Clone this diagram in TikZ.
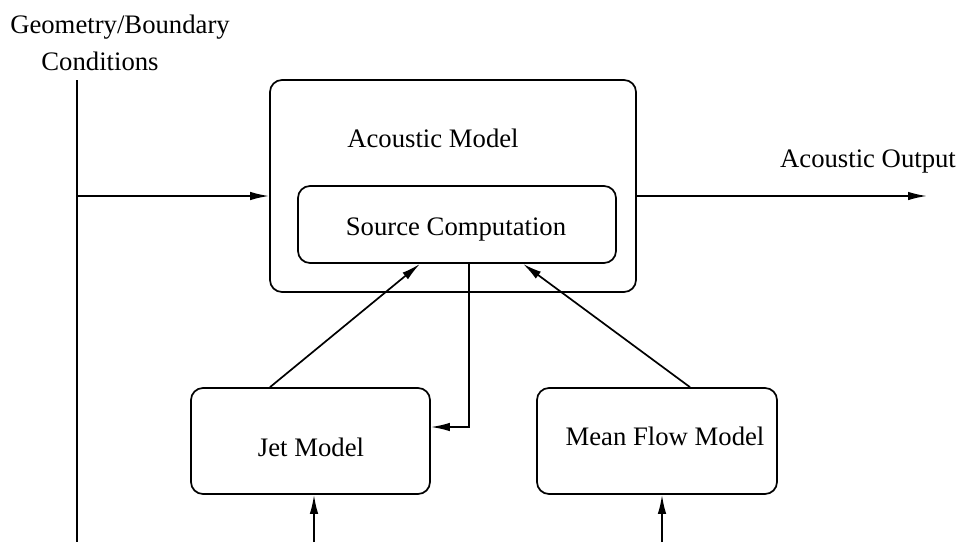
\documentclass[tikz,border=0pt]{standalone}
\usepackage{fontspec}
\setmainfont{Liberation Serif}
\usetikzlibrary{arrows.meta}
\begin{document}
\begin{tikzpicture}[x=1pt,y=-1pt,line width=1.7pt,
  box/.style={draw,rounded corners=12pt,inner sep=0pt},
  lbl/.style={font=\fontsize{26.7}{32}\selectfont,inner sep=0pt,anchor=base},
  arr/.style={-{Latex[length=19pt,width=8.5pt]}}]
\useasboundingbox (0,0) rectangle (961,542);

% model blocks
\node[box,minimum width=366pt,minimum height=212pt] (AM) at (453,186) {};
\node[box,minimum width=318pt,minimum height=77pt] (SC) at (457,224.5) {};
\node[box,minimum width=239pt,minimum height=106pt] (JM) at (310.5,441) {};
\node[box,minimum width=240pt,minimum height=106pt] (MF) at (657,441) {};

% block titles
\node[lbl] (tAM) at (433,147) {Acoustic Model};
\node[lbl] (tSC) at (456,235) {Source Computation};
\node[lbl] (tJM) at (311,456) {Jet Model};
\node[lbl] (tMF) at (665,445) {Mean Flow Model};

% free labels
\node[lbl] (tGeo) at (120,33) {Geometry/Boundary};
\node[lbl] (tCond) at (100,70) {Conditions};
\node[lbl] (tOut) at (868,167) {Acoustic Output};

% geometry / boundary condition feed
\coordinate (gtop) at (77,80);
\coordinate (gbot) at (77,542);
\draw (gtop) -- (gbot);
\draw[arr] (gtop |- 0,196) -- (AM.west |- 0,196);

% acoustic output
\coordinate (out) at (927,196);
\draw[arr] (AM.east |- out) -- (out);

% flow models feeding the source computation
\draw[arr] (JM.north -| 270,0) -- (SC.south -| 420,0);
\draw[arr] (MF.north -| 690,0) -- (SC.south -| 523,0);
\draw[arr] (SC.south -| 469,0) |- (JM.east |- 0,427);

% inputs from below
\coordinate (jin) at (314,542);
\coordinate (min) at (662,542);
\draw[arr] (jin) -- (jin |- JM.south);
\draw[arr] (min) -- (min |- MF.south);
\end{tikzpicture}
\end{document}
